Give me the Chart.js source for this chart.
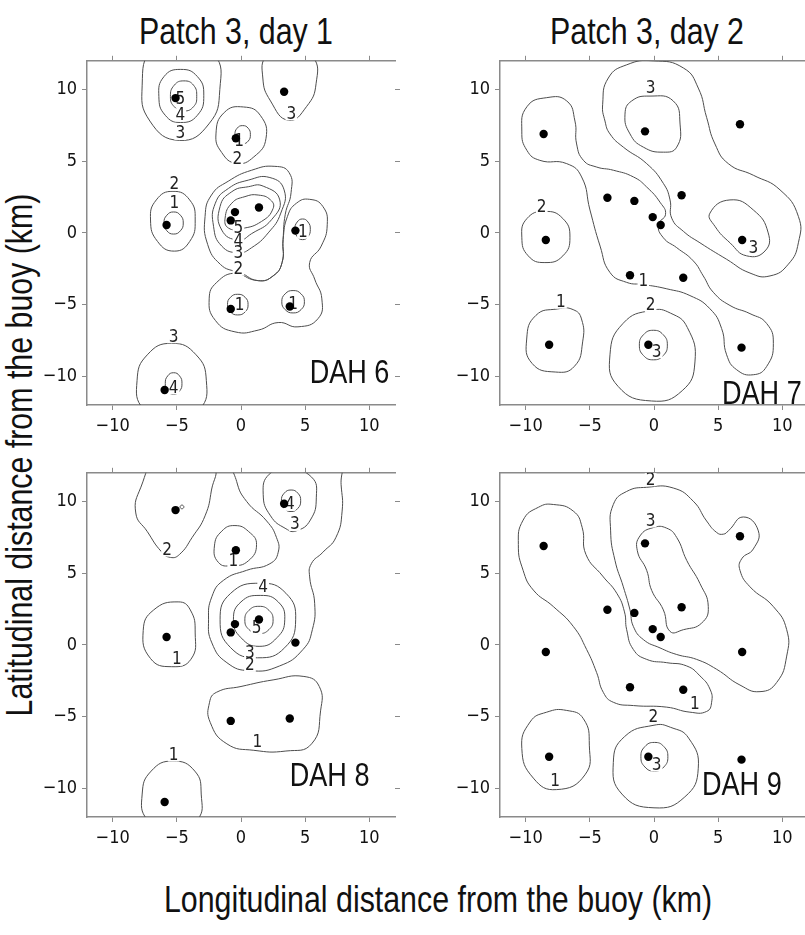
<!DOCTYPE html>
<html>
<head>
<meta charset="utf-8">
<script src="https://cdn.jsdelivr.net/npm/chart.js@4.4.0/dist/chart.umd.min.js"></script>
<style>
  html, body { margin: 0; padding: 0; background: #fff; }
  body { width: 805px; height: 935px; overflow: hidden; position: relative; }
  .panel { position: absolute; width: 420px; height: 400px; }
  .txt { position: absolute; font-family: "Liberation Sans", Arial, sans-serif; font-size: 37px;
         line-height: 37px; color: #111; white-space: nowrap; }
</style>
</head>
<body>
<div class="txt" style="left:236px; top:13px; transform: translateX(-50%) scaleX(0.82);">Patch 3, day 1</div>
<div class="txt" style="left:647px; top:13px; transform: translateX(-50%) scaleX(0.82);">Patch 3, day 2</div>
<div class="txt" style="left:438px; top:881px; transform: translateX(-50%) scaleX(0.82);">Longitudinal distance from the buoy (km)</div>
<div class="txt" style="left:18.5px; top:455px; transform: translate(-50%, -50%) rotate(-90deg) scaleX(0.82);">Latitudinal distance from the buoy (km)</div>

<canvas id="c1" class="panel" width="420" height="400" style="left:0; top:45px;"></canvas>
<canvas id="c2" class="panel" width="420" height="400" style="left:413px; top:45px;"></canvas>
<canvas id="c3" class="panel" width="420" height="400" style="left:0; top:457px;"></canvas>
<canvas id="c4" class="panel" width="420" height="400" style="left:413px; top:457px;"></canvas>

<script>
// axis ticks (km)
const xTicks = [-10, -5, 0, 5, 10];
const yTicks = [-10, -5, 0, 5, 10];

// sampling stations
const stationsDay1 = [[-5.1, 9.4], [3.36, 9.84], [-0.4, 6.6], [-0.47, 1.45], [-0.8, 0.87], [1.4, 1.77],
  [-5.8, 0.55], [4.24, 0.16], [-0.8, -5.3], [3.8, -5.13], [-5.95, -10.95]];
const stationsDay2 = [[-8.6, 6.9], [-0.7, 7.08], [6.7, 7.58], [-3.63, 2.45], [-1.53, 2.23], [2.15, 2.63],
  [-0.1, 1.1], [0.52, 0.55], [-8.43, -0.5], [6.87, -0.5], [-1.87, -2.95], [2.28, -3.13],
  [-8.17, -7.8], [-0.44, -7.8], [6.82, -8.0]];

// contour outlines (closed rings, km)
const contoursDah6 = [
  [[-4.7, 13.7], [-6.9, 12.9], [-7.7, 10.3], [-7.1, 7.8], [-4.8, 6.45], [-2.5, 7.6], [-1.65, 10.0], [-2.1, 12.5]],
  [[-4.7, 11.4], [-6.0, 10.9], [-6.4, 9.5], [-5.9, 8.2], [-4.7, 7.7], [-3.4, 8.2], [-2.9, 9.6], [-3.4, 10.9]],
  [[-4.45, 10.6], [-5.2, 10.3], [-5.5, 9.5], [-5.2, 8.8], [-4.45, 8.5], [-3.7, 8.8], [-3.45, 9.5], [-3.7, 10.3]],
  [[3.7, 13.2], [2.0, 12.4], [1.7, 10.8], [2.3, 9.2], [3.7, 7.85], [5.1, 8.8], [5.85, 10.4], [5.6, 12.3]],
  [[0.2, 8.78], [-1.3, 8.4], [-1.95, 6.9], [-1.5, 5.6], [-0.35, 4.85], [1.0, 5.3], [1.95, 6.6], [1.5, 8.2]],
  [[0.13, 7.48], [-0.3, 7.3], [-0.47, 6.85], [-0.3, 6.4], [0.13, 6.22], [0.56, 6.4], [0.73, 6.85], [0.56, 7.3]],
  [[-5.3, 2.9], [-6.6, 2.3], [-7.05, 0.9], [-6.5, -0.6], [-5.2, -1.27], [-4.0, -0.6], [-3.57, 0.9], [-4.0, 2.3]],
  [[-5.25, 1.46], [-5.78, 1.23], [-6.0, 0.69], [-5.78, 0.15], [-5.25, -0.08], [-4.72, 0.15], [-4.5, 0.69], [-4.72, 1.23]],
  [[1.34, 2.64], [2.3, 2.3], [2.5, 1.7], [1.6, 0.8], [0.05, 0.3], [-0.98, 0.34], [-1.24, 1.03], [-0.72, 2.07], [0.31, 2.53]],
  [[1.73, 3.26], [3.02, 2.3], [2.38, 0.92], [0.83, -0.05], [-0.2, -0.5], [-1.5, 0.2], [-1.63, 1.84], [-0.72, 2.87], [0.57, 3.22]],
  [[2.25, 3.86], [3.36, 3.0], [3.1, 1.38], [2.12, 0.0], [0.83, -1.03], [-0.2, -1.38], [-1.5, -0.92], [-2.14, 0.46], [-2.0, 2.07], [-0.98, 3.1], [0.57, 3.68]],
  [[2.64, 4.64], [3.75, 4.2], [3.9, 2.8], [3.45, 1.3], [3.28, -0.46], [3.2, -2.07], [2.5, -3.0], [1.34, -3.33], [-0.3, -2.75],
   [-1.6, -2.2], [-2.6, -0.8], [-2.8, 1.15], [-2.3, 2.64], [-1.0, 3.6], [0.83, 4.37]],
  [[5.35, 2.34], [6.38, 1.84], [6.72, 0.57], [6.25, -0.92], [5.35, -2.07], [5.74, -3.22], [6.3, -4.6], [6.0, -5.98],
   [4.44, -6.55], [2.9, -6.25], [1.34, -6.78], [-0.47, -6.9], [-2.0, -6.1], [-2.48, -4.6], [-1.89, -3.45], [-0.34, -2.8],
   [1.34, -3.33], [2.5, -3.0], [3.2, -2.07], [3.28, -0.46], [3.62, 1.15], [4.32, 2.07]],
  [[4.8, 0.97], [4.38, 0.76], [4.2, 0.25], [4.38, -0.26], [4.8, -0.47], [5.22, -0.26], [5.4, 0.25], [5.22, 0.76]],
  [[-0.25, -4.28], [-0.82, -4.49], [-1.05, -5.0], [-0.82, -5.51], [-0.25, -5.72], [0.32, -5.51], [0.55, -5.0], [0.32, -4.49]],
  [[4.06, -4.02], [3.44, -4.25], [3.18, -4.8], [3.44, -5.35], [4.06, -5.58], [4.68, -5.35], [4.94, -4.8], [4.68, -4.25]],
  [[-5.4, -7.7], [-7.3, -8.5], [-8.1, -10.3], [-7.6, -12.3], [-5.4, -13.3], [-3.2, -12.3], [-2.7, -10.3], [-3.5, -8.5]],
  [[-5.25, -9.75], [-5.71, -9.97], [-5.9, -10.5], [-5.71, -11.03], [-5.25, -11.25], [-4.79, -11.03], [-4.6, -10.5], [-4.79, -9.97]]
];
const labelsDah6 = [['5', -4.73, 9.3], ['4', -4.73, 8.23], ['3', -4.73, 6.94], ['3', 3.93, 8.3], ['1', -0.15, 6.4],
  ['2', -0.28, 5.17], ['2', -5.19, 3.4], ['1', -5.19, 2.11], ['5', -0.2, 0.34], ['4', -0.2, -0.57], ['3', -0.2, -1.38],
  ['2', -0.2, -2.53], ['1', 4.83, 0.05], ['1', -0.1, -5.06], ['1', 4.06, -4.94], ['3', -5.25, -7.24], ['4', -5.25, -10.8]];

const contoursDah7 = [
  [[-8.5, 1.5], [-9.9, 1.0], [-10.3, -0.3], [-9.8, -1.6], [-8.5, -2.07], [-7.1, -1.6], [-6.55, -0.3], [-7.1, 1.0]],
  [[-7.5, -5.3], [-9.2, -5.75], [-9.92, -7.4], [-9.5, -9.1], [-7.7, -9.7], [-6.2, -9.3], [-5.56, -7.6], [-5.65, -6.0], [-6.3, -5.35]],
  [[-0.2, -5.4], [-2.4, -6.3], [-3.43, -8.5], [-2.8, -10.7], [-0.2, -11.72], [2.2, -11.0], [3.19, -9.0], [2.6, -6.6], [1.3, -5.6]],
  [[-0.05, -6.79], [-0.82, -7.1], [-1.14, -7.82], [-0.82, -8.55], [-0.05, -8.85], [0.72, -8.55], [1.04, -7.82], [0.72, -7.1]],
  [[-0.31, 9.54], [1.5, 9.2], [2.03, 7.59], [1.77, 5.98], [0.73, 5.63], [-0.83, 5.98], [-1.87, 6.9], [-2.26, 8.28], [-1.74, 9.2]],
  [[5.92, 2.3], [7.74, 1.6], [8.9, 0.0], [8.65, -1.26], [7.22, -1.6], [5.92, -0.69], [4.75, 0.46], [4.36, 1.38]],
  [[-0.05, 12.0], [2.29, 11.5], [3.45, 10.1], [4.1, 8.05], [4.75, 6.2], [5.79, 4.83], [7.74, 4.02], [9.82, 3.0], [11.25, 1.15],
   [11.25, -0.69], [10.47, -2.18], [9.04, -3.0], [7.48, -2.8], [5.66, -1.84], [3.58, -0.69], [2.29, 0.11], [1.38, 1.03],
   [1.25, 2.3], [0.73, 3.45], [-0.57, 4.83], [-2.39, 5.98], [-3.43, 6.9], [-3.82, 7.8], [-4.0, 8.97], [-3.56, 10.8], [-2.13, 11.72]],
  [[-8.36, 9.43], [-6.8, 9.2], [-6.16, 7.8], [-6.03, 6.2], [-5.5, 5.06], [-4.5, 4.6], [-3.17, 4.37], [-1.6, 3.9], [-0.57, 3.2],
   [0.5, 2.1], [0.9, 1.3], [0.34, 0.57], [0.73, -0.34], [1.77, -1.03], [3.06, -1.95], [3.84, -3.0], [4.62, -4.14], [5.92, -5.06],
   [7.48, -5.63], [8.78, -6.32], [9.3, -7.7], [8.78, -9.31], [7.74, -9.89], [6.44, -9.54], [5.66, -8.5], [5.27, -6.67],
   [4.36, -5.29], [2.8, -4.37], [1.0, -3.9], [-0.83, -3.6], [-2.13, -3.45], [-3.43, -2.76], [-4.2, -0.92], [-4.99, 1.6],
   [-5.64, 3.9], [-6.8, 4.83], [-8.9, 5.06], [-9.9, 5.75], [-10.3, 7.1], [-9.9, 8.8]]
];
const labelsDah7 = [['3', -0.26, 10.1], ['3', 7.74, -1.03], ['2', -8.75, 1.8], ['1', -0.83, -3.33], ['1', -7.25, -4.83],
  ['2', -0.26, -5.06], ['3', 0.2, -8.28]];

const contoursDah8 = [
  [[-6.5, 13.0], [-7.8, 11.0], [-8.2, 9.2], [-7.3, 7.9], [-6.2, 6.5], [-5.5, 6.1], [-4.8, 6.3], [-3.8, 7.5], [-2.8, 9.0],
   [-2.3, 10.8], [-2.1, 12.5], [-4.0, 13.4]],
  [[-4.6, 9.75], [-4.75, 9.62], [-4.6, 9.49], [-4.45, 9.62]],
  [[-0.5, 13.0], [-0.34, 11.4], [0.44, 10.0], [2.0, 8.64], [2.76, 7.5], [2.9, 6.46], [2.25, 5.66], [0.44, 5.2], [-1.37, 4.5],
   [-2.27, 3.36], [-2.53, 1.75], [-2.27, 0.14], [-1.1, -1.24], [0.7, -1.8], [3.0, -1.47], [4.83, -0.32], [5.56, 1.06],
   [5.74, 2.9], [5.35, 4.74], [5.48, 5.66], [6.38, 6.46], [7.4, 7.5], [7.88, 9.33], [7.8, 11.17], [7.6, 13.0], [3.5, 14.0]],
  [[3.7, 12.2], [2.2, 11.9], [1.73, 10.5], [2.3, 9.0], [3.5, 8.1], [4.3, 7.95], [5.4, 8.7], [5.87, 10.3], [5.5, 11.7]],
  [[3.9, 10.8], [3.37, 10.58], [3.15, 10.05], [3.37, 9.52], [3.9, 9.3], [4.43, 9.52], [4.65, 10.05], [4.43, 10.58]],
  [[-0.47, 8.32], [0.6, 7.9], [1.21, 7.0], [0.57, 5.86], [-0.72, 5.52], [-1.76, 5.75], [-2.07, 6.9], [-1.5, 7.93]],
  [[-4.9, 3.0], [-6.8, 2.44], [-7.62, 1.0], [-7.05, -0.95], [-5.4, -1.52], [-3.9, -1.0], [-3.57, 0.83], [-3.95, 2.44]],
  [[1.4, 2.69], [0.62, 2.41], [0.3, 1.74], [0.62, 1.07], [1.4, 0.79], [2.18, 1.07], [2.5, 1.74], [2.18, 2.41]],
  [[1.5, 3.45], [0.0, 3.0], [-0.59, 1.75], [0.0, 0.5], [1.41, -0.1], [2.8, 0.5], [3.41, 1.75], [2.9, 3.0]],
  [[1.5, 4.3], [-0.8, 3.6], [-1.63, 1.75], [-0.8, -0.2], [1.3, -0.9], [3.4, -0.2], [4.26, 1.75], [3.5, 3.6]],
  [[-1.9, -3.3], [0.0, -2.9], [2.5, -2.44], [4.9, -2.2], [6.1, -2.9], [6.2, -4.6], [5.5, -6.9], [3.5, -7.4], [1.0, -7.35],
   [-1.1, -6.9], [-2.4, -5.4], [-2.45, -4.0]],
  [[-5.3, -8.1], [-7.0, -8.8], [-7.7, -10.4], [-7.3, -12.2], [-5.4, -13.0], [-3.4, -12.2], [-3.1, -10.4], [-3.6, -8.8]]
];
const labelsDah8 = [['2', -5.76, 6.62], ['3', 4.19, 8.4], ['4', 3.8, 9.8], ['1', -0.6, 5.86], ['4', 1.73, 4.02],
  ['5', 1.21, 1.2], ['3', 0.7, -0.57], ['2', 0.7, -1.43], ['1', -5.0, -1.0], ['1', 1.27, -6.76], ['1', -5.25, -7.68]];

const contoursDah9 = [
  [[-6.8, -4.57], [-5.5, -5.15], [-5.04, -6.99], [-5.38, -9.06], [-7.58, -10.09], [-9.4, -9.29], [-10.3, -7.22], [-9.66, -5.38], [-8.36, -4.69]],
  [[0.0, -5.6], [-2.3, -6.4], [-3.17, -8.2], [-2.5, -10.4], [0.0, -11.36], [2.4, -10.6], [3.45, -8.6], [2.7, -6.5], [1.3, -5.75]],
  [[0.03, -6.8], [-0.71, -7.09], [-1.02, -7.8], [-0.71, -8.51], [0.03, -8.8], [0.77, -8.51], [1.08, -7.8], [0.77, -7.09]],
  [[-7.84, 9.79], [-6.29, 9.33], [-5.6, 8.2], [-5.3, 6.3], [-4.0, 4.8], [-2.9, 3.6], [-2.3, 2.3], [-2.13, 1.06], [-1.61, -0.32],
   [-0.57, -1.01], [0.99, -1.24], [2.55, -1.47], [3.58, -2.16], [4.36, -3.08], [4.49, -4.0], [4.1, -4.64], [2.8, -4.69],
   [0.99, -4.34], [-1.6, -4.23], [-3.17, -4.0], [-3.95, -3.31], [-4.47, -1.93], [-5.25, -0.32], [-6.29, 1.29], [-7.84, 2.67],
   [-9.4, 3.82], [-10.2, 5.2], [-10.57, 7.0], [-10.2, 8.7], [-9.0, 9.6]],
  [[-0.57, 10.99], [1.5, 10.94], [3.06, 10.02], [4.1, 8.64], [4.88, 7.84], [5.4, 7.72], [5.79, 7.95], [6.96, 8.92], [8.13, 7.95],
   [7.74, 6.69], [6.83, 6.0], [6.7, 5.2], [7.48, 4.05], [9.3, 2.67], [10.34, 1.06], [10.34, -0.78], [9.56, -2.62], [8.26, -3.26],
   [6.7, -2.8], [4.88, -1.7], [3.32, -1.01], [1.77, -0.67], [0.47, -0.21], [-0.83, 0.37], [-1.61, 1.29], [-1.87, 2.44],
   [-2.39, 4.05], [-3.04, 5.89], [-3.38, 7.95], [-3.17, 9.79], [-2.13, 10.7]],
  [[-0.05, 8.18], [-1.09, 7.6], [-1.3, 6.57], [-0.57, 5.2], [-0.18, 3.8], [0.73, 2.44], [1.25, 0.94], [2.29, 1.06], [3.71, 1.52],
   [4.23, 2.67], [3.58, 4.28], [2.55, 5.89], [1.77, 7.49], [0.99, 8.14]]
];
const labelsDah9 = [['2', -0.26, 11.52], ['3', -0.26, 8.64], ['1', 3.19, -4.11], ['2', -0.05, -5.03], ['3', 0.2, -8.37],
  ['1', -7.71, -9.52]];

const tickFont = { family: '"Liberation Sans Narrow", "DejaVu Sans Condensed", "Liberation Sans", sans-serif', size: 18 };
const axisGray = '#8a8a8a';
const fmt = v => (v < 0 ? '\u2212' + Math.abs(v) : String(v));

// closes the contour lines into smooth loops, writes the level labels and the DAH tag
const contourPlugin = {
  id: 'contourLoops',
  beforeDatasetsDraw(chart) {
    chart.data.datasets.forEach((ds, i) => {
      if (!ds.closedRing) return;
      const line = chart.getDatasetMeta(i).dataset;
      if (!line) return;
      line._loop = true;
      line._fullLoop = true;
      delete line._segments;
      delete line._path;
      line._pointsUpdated = false;
    });
  },
  beforeDatasetDraw(chart, args, opts) {
    if (args.index !== 0) return;
    const { ctx, scales: { x, y }, chartArea } = chart;
    ctx.save();
    ctx.beginPath();
    ctx.rect(chartArea.left, chartArea.top, chartArea.width, chartArea.height);
    ctx.clip();
    ctx.font = '17px ' + tickFont.family;
    ctx.textAlign = 'center';
    ctx.textBaseline = 'middle';
    opts.labels.forEach(([t, lx, ly]) => {
      const px = x.getPixelForValue(lx), py = y.getPixelForValue(ly);
      const w = ctx.measureText(t).width;
      ctx.fillStyle = '#fff';
      ctx.fillRect(px - w / 2 - 1, py - 6.5, w + 2, 13);
      ctx.fillStyle = '#222';
      ctx.fillText(t, px, py + 0.5);
    });
    ctx.restore();
  },
  afterDraw(chart, args, opts) {
    const { ctx, scales: { x, y } } = chart;
    ctx.save();
    ctx.translate(x.getPixelForValue(opts.tagAt[0]), y.getPixelForValue(opts.tagAt[1]));
    ctx.scale(0.82, 1);
    ctx.font = '33px "Liberation Sans", Arial, sans-serif';
    ctx.fillStyle = '#111';
    ctx.textAlign = 'left';
    ctx.textBaseline = 'alphabetic';
    ctx.fillText(opts.tag, 0, 0);
    ctx.restore();
  }
};

function scale(position, list, showLabels, size, showBorder) {
  const horizontal = position === 'top' || position === 'bottom';
  return {
    type: 'linear', position, min: -12, max: 12,
    afterBuildTicks: s => { s.ticks = list.map(v => ({ value: v })); },
    ticks: { display: showLabels, font: tickFont, color: '#111', padding: horizontal ? 6 : 5,
             maxRotation: 0, autoSkip: false, callback: fmt },
    grid: { drawOnChartArea: false, drawTicks: true, tickLength: 5, color: axisGray, lineWidth: 1 },
    border: { display: showBorder, color: axisGray, width: 1.5 },
    afterFit: s => { if (horizontal) s.height = size; else s.width = size; }
  };
}

function makePanel(id, stations, rings, labels, tag, tagAt) {
  const datasets = [{
    type: 'scatter',
    data: stations.map(([x, y]) => ({ x, y })),
    pointRadius: 4.2, pointHoverRadius: 4.2, backgroundColor: '#000', borderWidth: 0
  }];
  rings.forEach(r => datasets.push({
    type: 'line', closedRing: true,
    data: r.map(([x, y]) => ({ x, y })),
    borderColor: '#4d4d4d', borderWidth: 1, pointRadius: 0, pointHoverRadius: 0,
    tension: 0.5, capBezierPoints: false, fill: false
  }));

  return new Chart(document.getElementById(id), {
    type: 'scatter',
    data: { datasets },
    options: {
      responsive: false, animation: false, devicePixelRatio: 1, events: [],
      layout: { padding: 0 },
      plugins: { legend: { display: false }, tooltip: { enabled: false },
                 contourLoops: { labels, tag, tagAt } },
      scales: {
        x: scale('bottom', xTicks, true, 40, true),
        x2: scale('top', xTicks, false, 10, true),
        y: scale('left', yTicks, true, 87, true),
        y2: scale('right', yTicks, false, 25, false)
      }
    },
    plugins: [contourPlugin]
  });
}

makePanel('c1', stationsDay1, contoursDah6, labelsDah6, 'DAH 6', [5.35, -10.48]);
makePanel('c2', stationsDay2, contoursDah7, labelsDah7, 'DAH 7', [5.3, -11.95]);
makePanel('c3', stationsDay1, contoursDah8, labelsDah8, 'DAH 8', [3.8, -9.86]);
makePanel('c4', stationsDay2, contoursDah9, labelsDah9, 'DAH 9', [3.74, -10.48]);
</script>
</body>
</html>
